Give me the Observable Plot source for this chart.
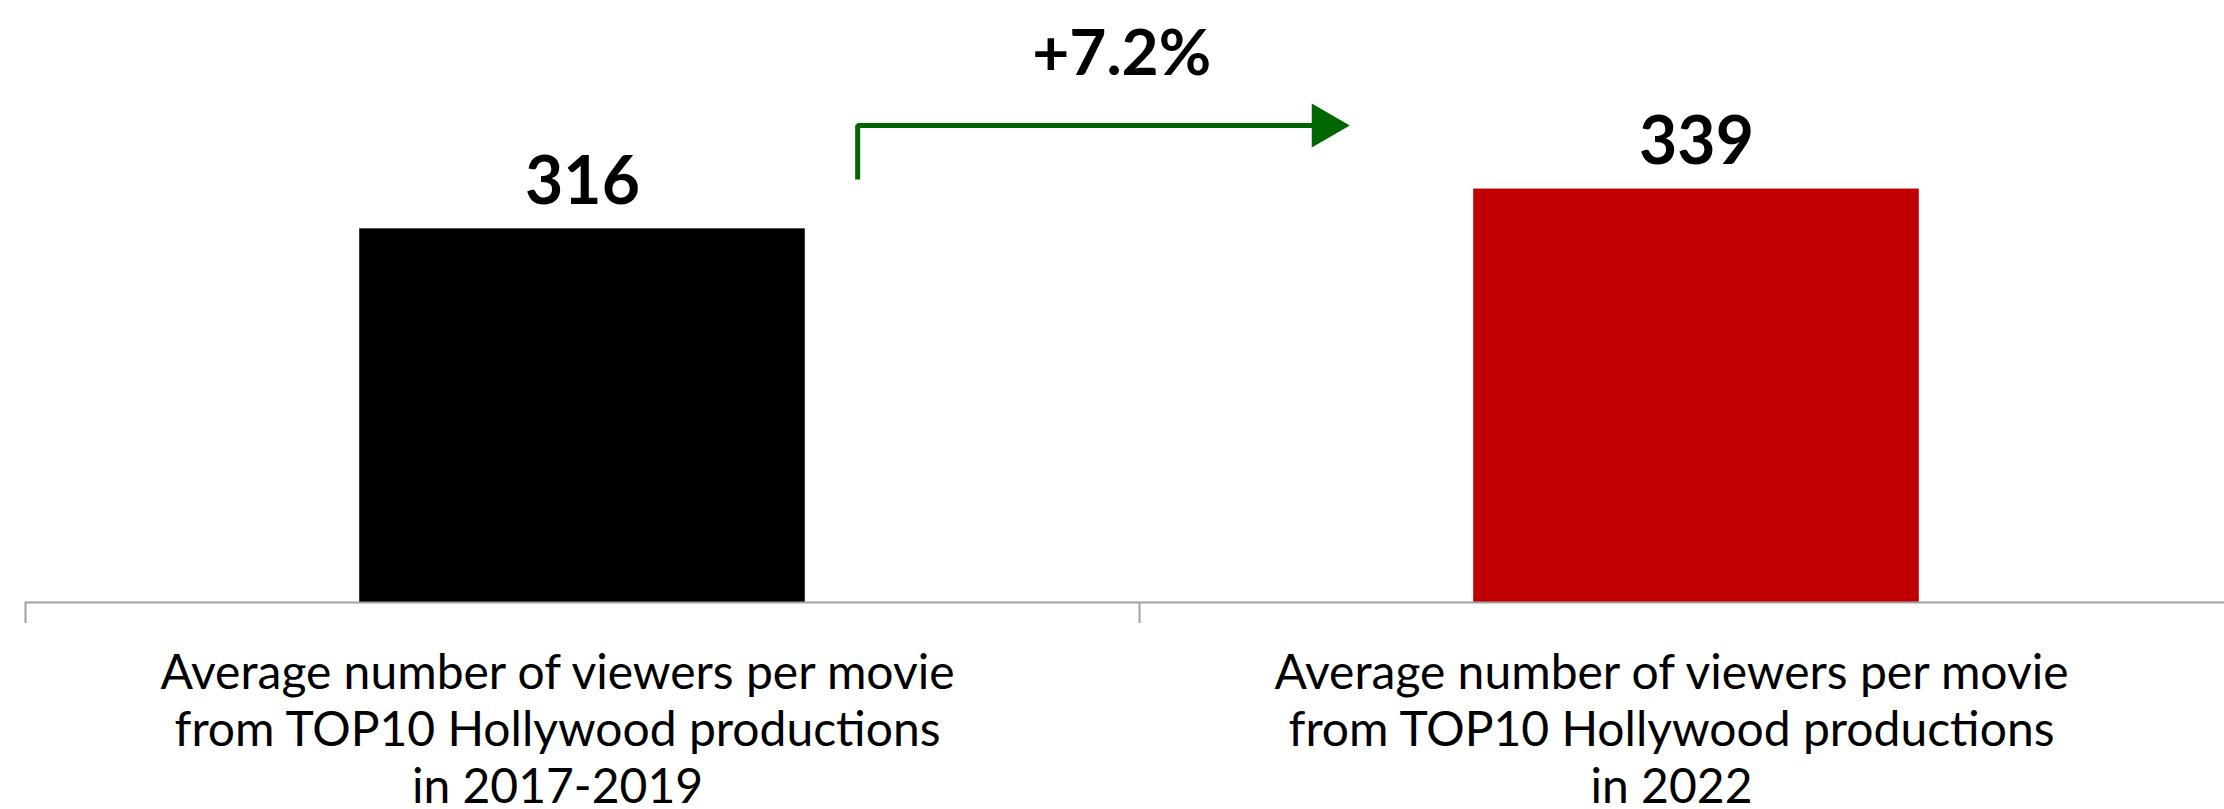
<!DOCTYPE html>
<html>
<head>
<meta charset="utf-8">
<script src="https://cdn.jsdelivr.net/npm/d3@7"></script>
<script src="https://cdn.jsdelivr.net/npm/@observablehq/plot@0.6"></script>
<style>
  html, body { margin: 0; padding: 0; background: #fff; overflow: hidden; }
  #chart svg { display: block; }
</style>
</head>
<body>
<div id="chart"></div>
<script>
// ---- data ----
const categories = [
  "Average number of viewers per movie\nfrom TOP10 Hollywood productions\nin 2017-2019",
  "Average number of viewers per movie\nfrom TOP10 Hollywood productions\nin 2022"
];
const values = [316, 339];
const barColors = ["#000000", "#c00000"];
const changeLabel = ["+7.2%"];
// annotation arrow (x in category units, y in value units)
const arrowX = [0.747, 0.747, 1.166];
const arrowY = [344.5, 375.7, 375.7];
const changeLabelX = [0.984];
const changeLabelY = [405.2];

const data = values.map((v, i) => ({i, cat: categories[i], value: v, color: barColors[i]}));
const arrowPts = arrowX.map((x, k) => ({x, y: arrowY[k]}));
const tip = [arrowPts[arrowPts.length - 1]];
const pct = changeLabel.map((t, k) => ({t, x: changeLabelX[k], y: changeLabelY[k]}));

const green = "#006600";
const axisGrey = "#a0a0a0";

const chart = Plot.plot({
  width: 2224,
  height: 809,
  marginLeft: 25,
  marginRight: 0,
  marginTop: 0,
  marginBottom: 207,
  style: {fontFamily: "Lato, 'Open Sans', sans-serif", color: "#000", background: "#fff"},
  x: {type: "linear", domain: [0, 2], range: [25, 2253], axis: null, label: null},
  y: {domain: [100, 448], axis: null, label: null},
  marks: [
    Plot.rectY(data, {
      x1: d => d.i + 0.3, x2: d => d.i + 0.7,
      y1: 100, y2: "value",
      fill: d => d.color
    }),
    Plot.ruleY([100], {stroke: axisGrey, strokeWidth: 2}),
    Plot.axisX({ticks: [0, 1, 2], tickSize: 21, tickFormat: () => "", label: null, stroke: axisGrey, strokeWidth: 2}),
    Plot.text(data, {
      x: d => d.i + 0.5,
      frameAnchor: "bottom",
      text: "cat",
      lineAnchor: "top",
      dy: 46,
      dx: -25,
      fontSize: 48,
      lineHeight: 1.19,
      fill: "#000"
    }),
    Plot.text(data, {
      x: d => d.i + 0.5, y: "value", text: d => String(d.value),
      lineAnchor: "bottom", dy: -25,
      fontSize: 66, fontWeight: "bold", fill: "#000"
    }),
    Plot.line(arrowPts, {x: "x", y: "y", stroke: green, strokeWidth: 5, strokeLinejoin: "miter", strokeLinecap: "butt"}),
    Plot.dot(tip, {x: "x", y: "y", symbol: "triangle", r: 16.3, rotate: 90, fill: green, stroke: "none"}),
    Plot.text(pct, {x: "x", y: "y", text: "t", lineAnchor: "bottom", fontSize: 64, fontWeight: "bold", fill: "#000"})
  ]
});
document.getElementById("chart").append(chart);
</script>
</body>
</html>
